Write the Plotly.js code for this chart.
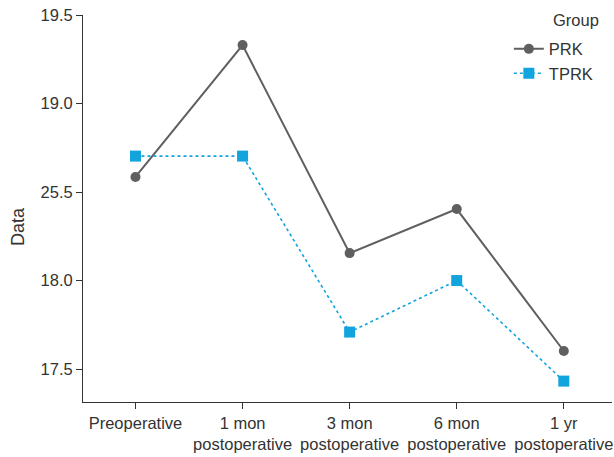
<!DOCTYPE html>
<html><head><meta charset="utf-8">
<script src="https://cdn.plot.ly/plotly-3.0.1.min.js"></script>
<style>html,body{margin:0;padding:0;background:#fff}#plot{width:614px;height:457px}</style>
</head><body><div id="plot"></div>
<script>
const categories = ["Preoperative", "1 mon<br>postoperative", "3 mon<br>postoperative", "6 mon<br>postoperative", "1 yr<br>postoperative"];
const prk = [18.585, 19.33, 18.155, 18.404, 17.602];
const tprk = [18.703, 18.703, 17.709, 18.0, 17.432];
const yTickVals = [17.5, 18.0, 18.5, 19.0, 19.5];
const yTickText = ["17.5", "18.0", "25.5", "19.0", "19.5"];

const traces = [
  {x: categories, y: prk, name: "PRK", type: "scatter", mode: "lines+markers",
   line: {color: "#5f5f5f", width: 2, dash: "solid"},
   marker: {color: "#5f5f5f", size: 10, symbol: "circle"}},
  {x: categories, y: tprk, name: "TPRK", type: "scatter", mode: "lines+markers",
   line: {color: "#12a4dc", width: 1.6, dash: "dot"},
   marker: {color: "#12a4dc", size: 11, symbol: "square"}}
];
const layout = {
  width: 614, height: 457,
  margin: {l: 83, r: 2, t: 15, b: 55},
  paper_bgcolor: "#fff", plot_bgcolor: "#fff",
  font: {family: "Liberation Sans, Arial, sans-serif", size: 16.5, color: "#333"},
  showlegend: true,
  legend: {x: 0.805, y: 0.957, xanchor: "left", yanchor: "top",
    font: {size: 16.5}, bgcolor: "rgba(0,0,0,0)", tracegroupgap: 0},
  annotations: [
    {text: "Group", xref: "paper", yref: "paper", x: 0.885, y: 0.987,
     xanchor: "left", yanchor: "middle", showarrow: false, font: {size: 16.5, color: "#333"}},
    {text: "Data", xref: "paper", yref: "paper", x: -0.1229, y: 0.4548, textangle: -90,
     xanchor: "center", yanchor: "middle", showarrow: false, font: {size: 18, color: "#333"}}
  ],
  xaxis: {type: "category", range: [-0.49, 4.45], showline: true, linecolor: "#333", linewidth: 1,
    ticks: "outside", ticklen: 6, tickcolor: "#333", showgrid: false, zeroline: false,
    tickfont: {size: 16.5, color: "#333"}},
  yaxis: {range: [17.314, 19.5], showline: true, linecolor: "#333", linewidth: 1,
    ticks: "outside", ticklen: 6, tickcolor: "#333", showgrid: false, zeroline: false,
    tickvals: yTickVals, ticktext: yTickText, tickfont: {size: 16.5, color: "#333"}}
};
Plotly.newPlot("plot", traces, layout, {displayModeBar: false});
</script></body></html>
